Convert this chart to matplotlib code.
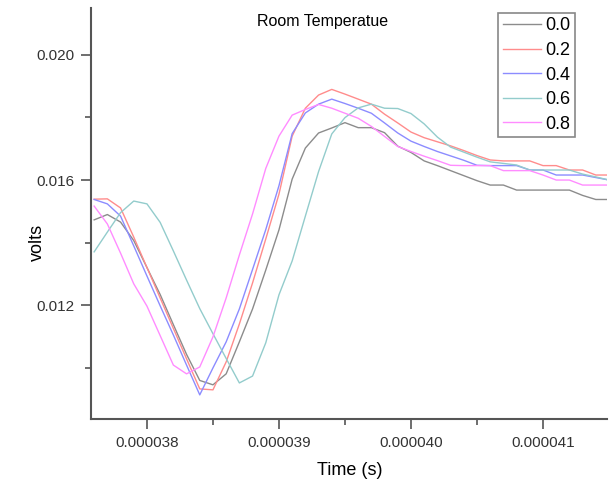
import numpy as np
import matplotlib
matplotlib.use("Agg")
import matplotlib.pyplot as plt
from matplotlib.ticker import MultipleLocator, FormatStrFormatter

plt.rcParams['font.family'] = ['Liberation Sans', 'DejaVu Sans']

# sample times: 0.1 us steps
time = 3.76e-5 + np.arange(40) * 1e-7

v00 = [0.01473, 0.01490, 0.01466, 0.01407, 0.01321, 0.01235, 0.01139, 0.01044, 0.00961, 0.00947,
       0.00982, 0.01084, 0.01189, 0.01313, 0.01441, 0.01603, 0.01702, 0.01750, 0.01766, 0.01783,
       0.01767, 0.01767, 0.01751, 0.01708, 0.01688, 0.01661, 0.01646, 0.01630, 0.01614, 0.01598,
       0.01584, 0.01584, 0.01568, 0.01568, 0.01568, 0.01568, 0.01568, 0.01551, 0.01538, 0.01538]
v02 = [0.01539, 0.01540, 0.01511, 0.01418, 0.01321, 0.01224, 0.01127, 0.01030, 0.00934, 0.00931,
       0.01020, 0.01141, 0.01272, 0.01412, 0.01555, 0.01740, 0.01829, 0.01871, 0.01889, 0.01874,
       0.01858, 0.01842, 0.01810, 0.01782, 0.01753, 0.01735, 0.01722, 0.01709, 0.01694, 0.01678,
       0.01664, 0.01661, 0.01661, 0.01661, 0.01646, 0.01646, 0.01632, 0.01632, 0.01616, 0.01616]
v04 = [0.01538, 0.01524, 0.01485, 0.01390, 0.01294, 0.01199, 0.01106, 0.01010, 0.00915, 0.01001,
       0.01084, 0.01189, 0.01315, 0.01442, 0.01582, 0.01748, 0.01814, 0.01842, 0.01858, 0.01844,
       0.01829, 0.01813, 0.01782, 0.01750, 0.01724, 0.01707, 0.01691, 0.01677, 0.01663, 0.01647,
       0.01646, 0.01646, 0.01646, 0.01632, 0.01632, 0.01616, 0.01616, 0.01616, 0.01608, 0.01600]
v06 = [0.01371, 0.01434, 0.01496, 0.01533, 0.01524, 0.01465, 0.01374, 0.01281, 0.01190, 0.01110,
       0.01031, 0.00953, 0.00975, 0.01081, 0.01234, 0.01342, 0.01485, 0.01627, 0.01747, 0.01799,
       0.01830, 0.01842, 0.01829, 0.01828, 0.01812, 0.01779, 0.01737, 0.01705, 0.01689, 0.01673,
       0.01658, 0.01653, 0.01648, 0.01632, 0.01632, 0.01632, 0.01632, 0.01619, 0.01610, 0.01600]
v08 = [0.01517, 0.01460, 0.01367, 0.01269, 0.01198, 0.01104, 0.01010, 0.00982, 0.01004, 0.01100,
       0.01224, 0.01361, 0.01492, 0.01637, 0.01740, 0.01807, 0.01825, 0.01841, 0.01829, 0.01813,
       0.01797, 0.01771, 0.01739, 0.01707, 0.01691, 0.01676, 0.01662, 0.01647, 0.01646, 0.01646,
       0.01646, 0.01630, 0.01630, 0.01630, 0.01616, 0.01600, 0.01600, 0.01584, 0.01584, 0.01584]

labels = ['0.0', '0.2', '0.4', '0.6', '0.8']
series = [v00, v02, v04, v06, v08]
colors = ['#8c8c8c', '#ff8c8c', '#8c8cff', '#93cccc', '#ff8cff']

fig = plt.figure(figsize=(6.16, 4.87), dpi=100)
ax = fig.add_axes([0.1477, 0.1396, 0.8377, 0.8449])

for lab, vals, c in zip(labels, series, colors):
    ax.plot(time, vals, color=c, lw=1.0, label=lab)

ax.set_xlim(3.7576e-5, 4.1485e-5)
ax.set_ylim(0.00838, 0.0215)

ax.xaxis.set_major_locator(MultipleLocator(1e-6))
ax.xaxis.set_minor_locator(MultipleLocator(5e-7))
ax.xaxis.set_major_formatter(FormatStrFormatter('%.6f'))
ax.yaxis.set_major_locator(MultipleLocator(0.004))
ax.yaxis.set_minor_locator(MultipleLocator(0.002))
ax.yaxis.set_major_formatter(FormatStrFormatter('%.3f'))

for side in ['top', 'right']:
    ax.spines[side].set_visible(False)
for side in ['left', 'bottom']:
    ax.spines[side].set_color('#555555')
    ax.spines[side].set_linewidth(1.5)

ax.tick_params(which='major', length=7, width=1.2, color='#555555',
               labelsize=11, labelcolor='#333333', pad=5)
ax.tick_params(which='minor', length=4, width=1.2, color='#555555')

ax.set_xlabel('Time (s)', fontsize=13)
ax.set_ylabel('volts', fontsize=13)
ax.xaxis.set_label_coords(0.502, -0.105)
ax.yaxis.set_label_coords(-0.088, 0.43)
ax.text(0.448, 0.965, 'Room Temperatue', transform=ax.transAxes,
        fontsize=11.5, ha='center', va='center')

leg = ax.legend(loc='upper right', bbox_to_anchor=(0.938, 0.987), borderaxespad=0,
                fontsize=13, handlelength=2.1, labelspacing=0.42, handletextpad=0.25,
                fancybox=False, framealpha=1, edgecolor='#888888', borderpad=0.25)
leg.get_frame().set_linewidth(1.2)

fig.savefig('out.png', dpi=100)
